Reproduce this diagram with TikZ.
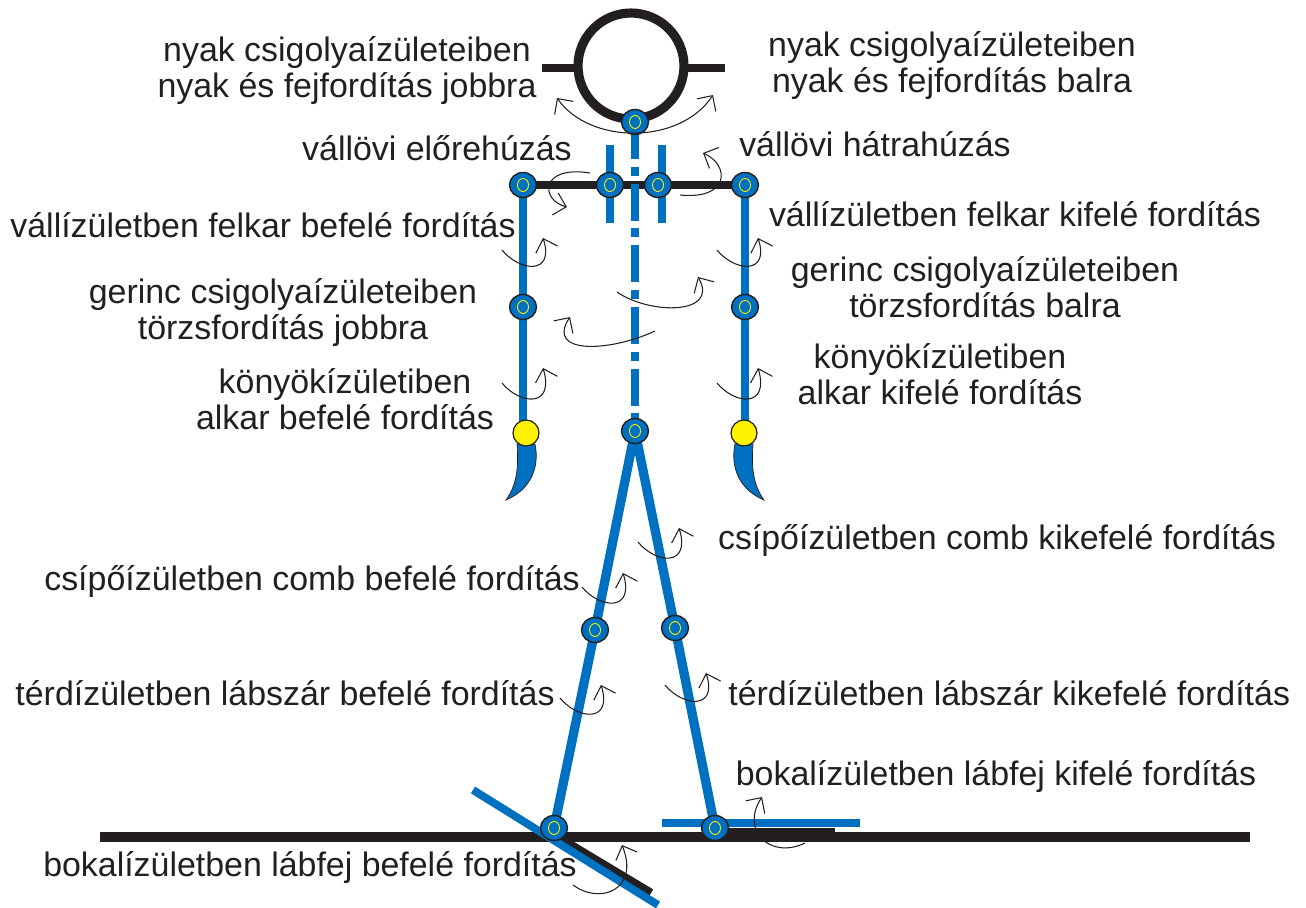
\documentclass[tikz,border=0pt]{standalone}
\usepackage{fontspec}
\setmainfont{Liberation Sans}
\usetikzlibrary{arrows.meta,shapes.geometric,backgrounds}
\definecolor{boneblue}{RGB}{0,112,192}
\definecolor{inkblack}{RGB}{35,31,32}
\definecolor{ringyellow}{RGB}{255,242,0}
\tikzset{
    joint/.style={ellipse, draw=inkblack, fill=boneblue, line width=0.8pt, minimum width=0.54cm, minimum height=0.5cm, inner sep=0pt,
        path picture={\draw[ringyellow, line width=0.5pt] (path picture bounding box.center) ellipse (0.11cm and 0.13cm);}},
    wrist/.style={circle, draw=inkblack, fill=yellow, line width=0.7pt, minimum size=0.52cm, inner sep=0pt},
    headring/.style={circle, draw=inkblack, fill=white, line width=5.2pt, minimum size=2.12cm, inner sep=0pt},
    bone/.style={boneblue, line width=4.5pt},
    leg/.style={boneblue, line width=5.3pt},
    bar/.style={inkblack, line width=4.8pt},
    spine/.style={boneblue, line width=4.6pt, dash pattern=on 21pt off 4.5pt on 5.1pt off 4.5pt},
    rot/.style={inkblack, line width=0.6pt, -{Straight Barb[length=6.5pt, width=13pt]}},
    txt/.style={font=\fontsize{19.3}{20.5}\selectfont, text=inkblack, align=center, inner sep=0pt},
}

\begin{document}
\begin{tikzpicture}[x=0.02cm, y=-0.02cm]
\useasboundingbox (0,0) rectangle (1306,908);

\node[headring] (head) at (631,66) {};
\node[joint] (neck) at (635,122) {};
\node[joint] (shL) at (523,185) {};
\node[joint] (clL) at (610,185) {};
\node[joint] (clR) at (658,185) {};
\node[joint] (shR) at (745,185) {};
\node[joint] (elL) at (523,307) {};
\node[joint] (elR) at (745,307) {};
\node[wrist] (wrL) at (526,433) {};
\node[wrist] (wrR) at (744,433) {};
\node[joint] (hip) at (635,431) {};
\node[joint] (knL) at (595,630) {};
\node[joint] (knR) at (675,628) {};
\node[joint] (anL) at (554,828) {};
\node[joint] (anR) at (715,828) {};

\begin{scope}[on background layer]
% head, shoulder girdle, spine
\draw[bar] (542,68) -- (725,68);
\draw[bar] (shL.center) -- (shR.center);
\draw[bone] (610,145) -- (610,223);
\draw[bone] (662,145) -- (662,223);
\draw[spine] (neck.center) -- (hip.center);
% arms and hands
\draw[bone] (shL.center) -- (elL.center) -- (elL |- wrL);
\draw[bone] (shR.center) -- (elR.center) -- (745,483);
\filldraw[boneblue, draw=inkblack, line width=0.4pt] (517,444) -- (535,444) .. controls (540,468) and (530,490) .. (506,500) .. controls (516,486) and (519,470) .. (517,444) -- cycle;
\filldraw[boneblue, draw=inkblack, line width=0.4pt] (753,444) -- (735,444) .. controls (730,468) and (740,490) .. (764,500) .. controls (754,486) and (751,470) .. (753,444) -- cycle;
% legs, ground, feet
\draw[leg] (hip.center) -- (knL.center) -- (anL.center);
\draw[leg] (hip.center) -- (knR.center) -- (anR.center);
\draw[bar, line width=5.3pt] (100,837) -- (1250,837);
\draw[bar] (556,836) -- (651,893);
\draw[bone] (473,790) -- (658,905);
\fill[inkblack] (714,828) rectangle (835,838);
\draw[bone, line width=5pt] (662,823) -- (860,823);
\end{scope}

% rotations
\draw[rot, {Straight Barb[length=6.5pt, width=13pt]}-{Straight Barb[length=6.5pt, width=13pt]}] (557,98) .. controls (590,145) and (680,145) .. (713,95);
\draw[rot] (590,173) .. controls (540,165) and (540,200) .. (567,207);
\draw[rot] (680,195) .. controls (730,200) and (730,165) .. (703,153);
\draw[rot] (502,250) .. controls (520,272) and (555,275) .. (543,238);
\draw[rot] (717,250) .. controls (735,272) and (770,275) .. (758,238);
\draw[rot] (617,292) .. controls (650,315) and (720,315) .. (698,277);
\draw[rot] (655,331) .. controls (610,352) and (545,355) .. (570,317);
\draw[rot] (502,383) .. controls (520,405) and (555,408) .. (543,368);
\draw[rot] (717,383) .. controls (735,405) and (770,408) .. (758,368);
\draw[rot] (638,542) .. controls (656,564) and (691,567) .. (679,528);
\draw[rot] (582,587) .. controls (600,609) and (635,612) .. (623,573);
\draw[rot] (560,698) .. controls (578,720) and (613,723) .. (601,685);
\draw[rot] (665,685) .. controls (683,707) and (718,710) .. (706,673);
\draw[rot] (805,843) .. controls (770,860) and (740,830) .. (762,797);
\draw[rot] (573,885) .. controls (600,905) and (640,890) .. (622,845);

% labels
\node[txt] (tNeckR) at (347,71) {nyak csigolyaízületeiben\\nyak és fejfordítás jobbra};
\node[txt] (tNeckL) at (952,66) {nyak csigolyaízületeiben\\nyak és fejfordítás balra};
\node[txt] (tGirdF) at (437,148) {vállövi előrehúzás};
\node[txt] (tGirdB) at (875,144) {vállövi hátrahúzás};
\node[txt] (tShIn) at (263,225) {vállízületben felkar befelé fordítás};
\node[txt] (tShOut) at (1015,214) {vállízületben felkar kifelé fordítás};
\node[txt] (tSpR) at (283,313) {gerinc csigolyaízületeiben\\törzsfordítás jobbra};
\node[txt] (tSpL) at (985,287) {gerinc csigolyaízületeiben\\törzsfordítás balra};
\node[txt] (tElIn) at (345,399) {könyökízületiben\\alkar befelé fordítás};
\node[txt] (tElOut) at (940,374) {könyökízületiben\\alkar kifelé fordítás};
\node[txt] (tHipOut) at (997,541) {csípőízületben comb kikefelé fordítás};
\node[txt] (tHipIn) at (312,582) {csípőízületben comb befelé fordítás};
\node[txt] (tKnIn) at (285,693) {térdízületben lábszár befelé fordítás};
\node[txt, anchor=west] (tKnOut) at (728,693) {térdízületben lábszár kikefelé fordítás};
\node[txt] (tAnOut) at (996,777) {bokalízületben lábfej kifelé fordítás};
\node[txt] (tAnIn) at (310,868) {bokalízületben lábfej befelé fordítás};

\end{tikzpicture}
\end{document}
